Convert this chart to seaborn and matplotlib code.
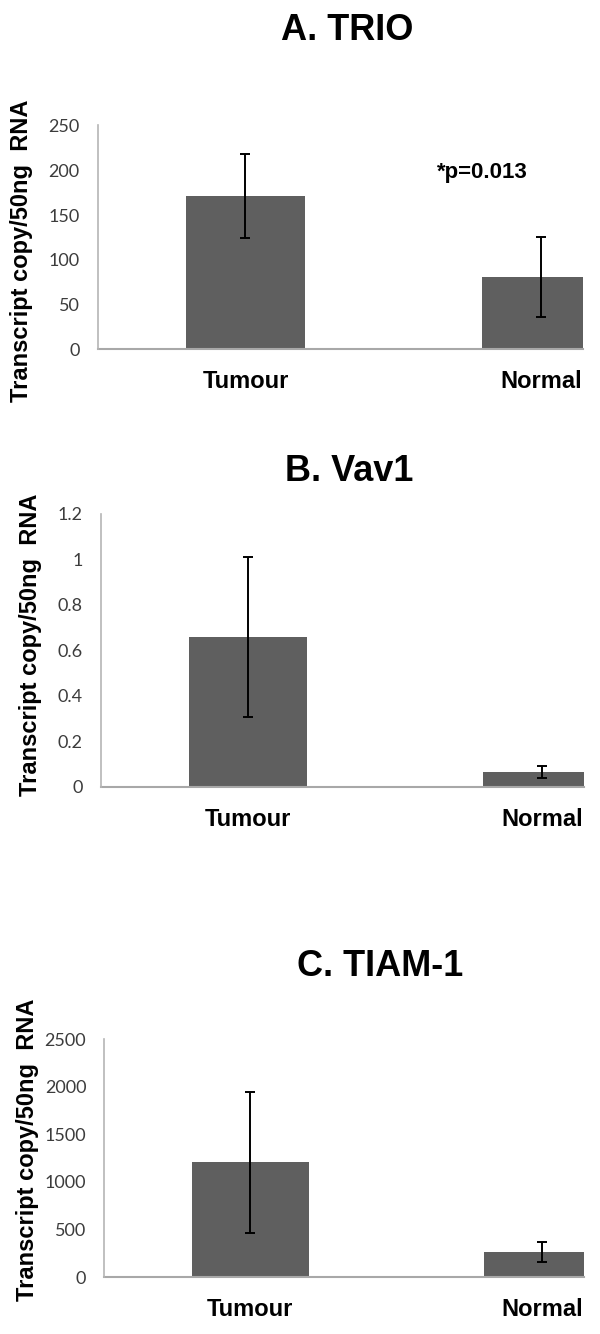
import numpy as np
import pandas as pd
import matplotlib
matplotlib.use("Agg")
import matplotlib.pyplot as plt
import seaborn as sns

# Data
categories = ["Tumour", "Normal"]

trio_mean = [171, 81]
trio_err = [47, 45]

vav1_mean = [0.657, 0.066]
vav1_err = [0.352, 0.026]

tiam1_mean = [1205, 262]
tiam1_err = [743, 108]

trio_ticks = [0, 50, 100, 150, 200, 250]
vav1_ticks = [0, 0.2, 0.4, 0.6, 0.8, 1.0, 1.2]
vav1_ticklabels = ["0", "0.2", "0.4", "0.6", "0.8", "1", "1.2"]
tiam1_ticks = [0, 500, 1000, 1500, 2000, 2500]

titles = ["A. TRIO", "B. Vav1", "C. TIAM-1"]
ylabel = "Transcript copy/50ng  RNA"
p_text = "*p=0.013"

sns.set_style("white")
plt.rcParams["font.family"] = ["Liberation Sans", "DejaVu Sans"]
plt.rcParams["text.color"] = "black"

bar_color = "#5f5f5f"
tick_color = "#3c3c3c"

fig = plt.figure(figsize=(6, 13.34), dpi=100)
W, H = 600, 1334


def px_axes(left, top, right, bottom):
    # pixel box -> figure fraction
    return fig.add_axes([left / W, 1 - bottom / H, (right - left) / W, (bottom - top) / H])


panels = [
    dict(box=(97.7, 125.5, 583.3, 349.3), mean=trio_mean, err=trio_err,
         ticks=trio_ticks, ticklabels=[str(t) for t in trio_ticks],
         title_xy=(347.5, 40), ylab_xy=(22, 251)),
    dict(box=(100.7, 514, 584, 786.7), mean=vav1_mean, err=vav1_err,
         ticks=vav1_ticks, ticklabels=vav1_ticklabels,
         title_xy=(348.7, 481), ylab_xy=(31, 645)),
    dict(box=(104.3, 1039.3, 584, 1277), mean=tiam1_mean, err=tiam1_err,
         ticks=tiam1_ticks, ticklabels=[str(t) for t in tiam1_ticks],
         title_xy=(380, 976), ylab_xy=(28, 1150)),
]

axes = []
for i, p in enumerate(panels):
    ax = px_axes(*p["box"])
    df = pd.DataFrame({"group": categories, "value": p["mean"]})
    sns.barplot(data=df, x="group", y="value", color=bar_color, saturation=1,
                width=0.4, errorbar=None, ax=ax, edgecolor="none")
    pos = np.arange(len(categories))
    ax.errorbar(pos, p["mean"], yerr=p["err"], fmt="none", ecolor="black",
                elinewidth=1.4, capsize=3.6, capthick=1.4, zorder=5)

    ax.set_xlim(-0.5, 1.143)
    ax.set_ylim(p["ticks"][0], p["ticks"][-1])
    ax.set_yticks(p["ticks"])
    ax.set_yticklabels(p["ticklabels"], family=["Lato", "DejaVu Sans"],
                       fontsize=13, color=tick_color)
    ax.set_xticks(pos)
    ax.set_xticklabels(categories, fontsize=17, fontweight="bold", color="black")
    ax.tick_params(axis="y", length=0, pad=13)
    ax.tick_params(axis="x", length=0, pad=15)
    ax.set_xlabel("")
    ax.set_ylabel("")

    for s in ["top", "right"]:
        ax.spines[s].set_visible(False)
    ax.spines["left"].set_color("#b5b5b5")
    ax.spines["left"].set_linewidth(1.2)
    ax.spines["bottom"].set_color("#a8a8a8")
    ax.spines["bottom"].set_linewidth(1.5)
    ax.spines["bottom"].set_zorder(1)

    tx, ty = p["title_xy"]
    fig.text(tx / W, 1 - ty / H, titles[i], ha="center", va="baseline",
             fontsize=26, fontweight="bold", color="black")
    lx, ly = p["ylab_xy"]
    fig.text(lx / W, 1 - ly / H, ylabel, rotation=90, ha="center", va="center",
             fontsize=17, fontweight="bold", color="black")
    axes.append(ax)

# p-value annotation in panel A
axes[0].text(0.803, 198, p_text, ha="center", va="center",
             fontsize=16, fontweight="bold", color="black")

fig.savefig("out.png", dpi=100, facecolor="white")
